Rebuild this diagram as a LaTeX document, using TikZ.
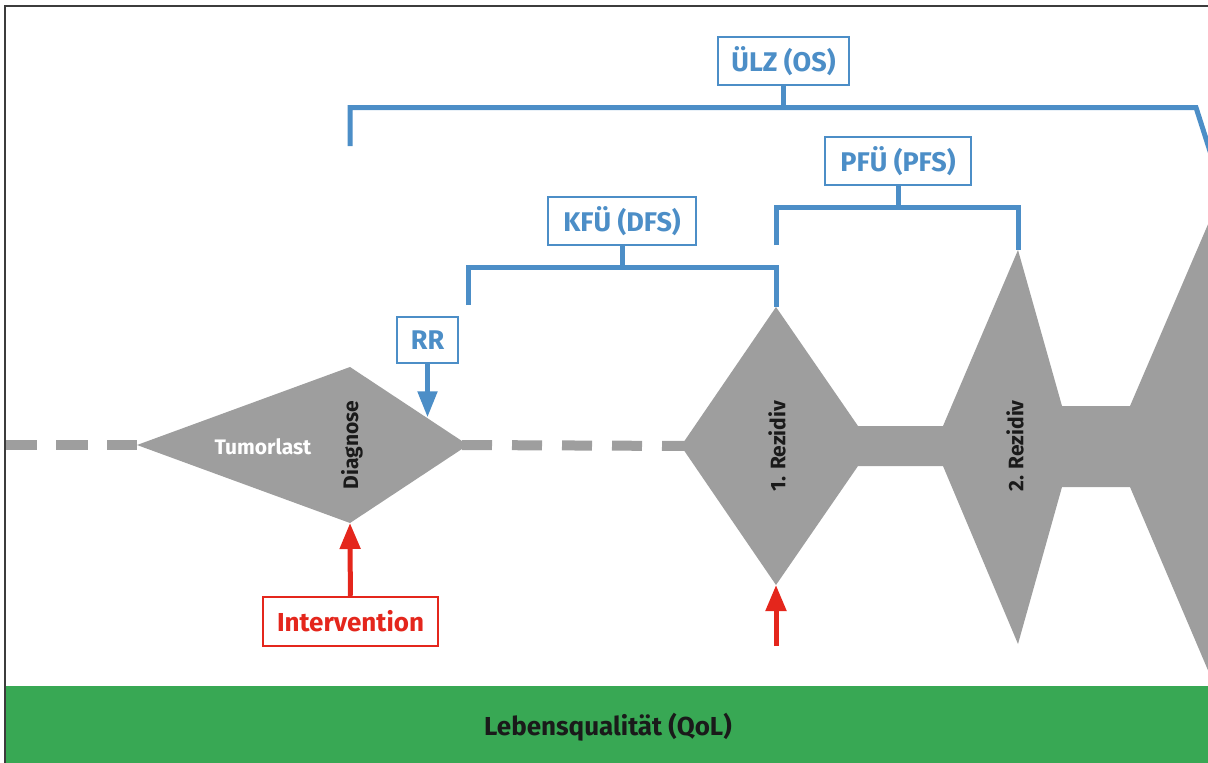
\documentclass[tikz,border=0pt]{standalone}
\usepackage{fontspec}
\setmainfont{Fira Sans}
\usetikzlibrary{arrows.meta,calc}
\definecolor{kblue}{RGB}{76,142,199}
\definecolor{kgray}{RGB}{158,158,158}
\definecolor{kred}{RGB}{228,38,28}
\definecolor{kgreen}{RGB}{56,168,84}
\definecolor{kframe}{RGB}{60,60,60}
\definecolor{ktext}{RGB}{26,26,26}
\tikzset{
  bracket/.style={kblue,line width=5pt},
  endbox/.style={draw=kblue,line width=2.5pt,text=kblue,fill=white,inner xsep=0pt,
    minimum height=48pt,font=\fontsize{27}{32}\selectfont\bfseries},
  redbox/.style={endbox,draw=kred,text=kred,font=\fontsize{26}{31}\selectfont\bfseries},
  phase/.style={font=\fontsize{21}{25}\selectfont\bfseries,text=ktext,inner sep=0pt},
  track/.style={kgray,line width=10pt,dash pattern=on 30pt off 20pt}
}
\begin{document}
\begin{tikzpicture}[x=1pt,y=-1pt]
    \useasboundingbox (0,0) rectangle (1208,763);
    \clip (0,0) rectangle (1208,763);
    \coordinate (start) at (5,445);
    \coordinate (d1l) at (137,445); \coordinate (d1t) at (350,367);
    \coordinate (d1r) at (468,445); \coordinate (d1b) at (350,523);
    \coordinate (d2l) at (681,446); \coordinate (d2t) at (776,307);
    \coordinate (d2b) at (776,585); \coordinate (d3t) at (1018,250);
    \draw[kgray,line width=10pt,dash pattern=on 32pt off 19pt] (start)--(d1l);
    \draw[track] ([xshift=-6pt]d1r)--([xshift=9pt]d2l);
    \fill[kgray] (d1l)--(d1t)--(d1r)--(d1b)--cycle;
    \fill[kgray] (d2l)--(d2t)--(858,426)--(943,426)--(d3t)--(1062,406)--(1130,406)
      --(1230,173)--(1230,722)--(1130,487)--(1062,487)--(1018,644)--(943,466)
      --(858,466)--(d2b)--cycle;
    \node[phase,text=white] (tl) at (263,447) {Tumorlast};
    \node[phase,rotate=90] (dg) at (352,445) {Diagnose};
    \node[phase,rotate=90] (rz1) at (777,446) {1. Rezidiv};
    \node[phase,rotate=90] (rz2) at (1015,446) {2. Rezidiv};
    \node[endbox,minimum width=131pt] (os) at (783.5,61) {ÜLZ (OS)};
    \node[endbox,minimum width=146pt] (pfs) at (898,161) {PFÜ (PFS)};
    \node[endbox,minimum width=148pt] (dfs) at (622,221) {KFÜ (DFS)};
    \node[endbox,minimum width=61pt,minimum height=46pt] (rr) at (427.5,340) {RR};
    \node[redbox,minimum width=175pt,minimum height=49pt] (iv) at (350.5,621.5) {Intervention};
    \coordinate (osL) at (350,146); \coordinate (osbar) at (783.5,107.5);
    \coordinate (osR) at (1196,107.5); \coordinate (osE) at (1216,170);
    \coordinate (pfsL) at (776,245); \coordinate (pfsbar) at (898,207.5);
    \coordinate (dfsL) at (468,305); \coordinate (dfsbar) at (622,267.5);
    \draw[bracket] (osL) |- (osbar) -- (osR) -- (osE);
    \draw[bracket] (os) -- (osbar);
    \draw[bracket] (pfsL) |- (pfsbar) -| (d3t);
    \draw[bracket] (pfs) -- (pfsbar);
    \draw[bracket] (dfsL) |- (dfsbar) -| (d2t);
    \draw[bracket] (dfs) -- (dfsbar);
    \coordinate (rrtip) at ($(d1t)!0.645!(d1r)$);
    \draw[kblue,line width=5pt,-{Triangle[length=26pt,width=19pt]}] (rr) -- (rr.south |- rrtip);
    \draw[kred,line width=5pt,-{Triangle[length=26pt,width=20pt]}] (iv) -- (d1b);
    \coordinate (rz1in) at (776,646);
    \draw[kred,line width=5pt,-{Triangle[length=26pt,width=20pt]}] (rz1in) -- (d2b);
    \fill[kgreen] (5,686) rectangle (1208,763);
    \node[font=\fontsize{26}{31}\selectfont\bfseries,text=ktext] (qol) at (608,727) {Lebensqualität (QoL)};
    \draw[kframe,line width=2pt] (5,763) -- (5,6) -- (1208,6);
  \end{tikzpicture}
\end{document}
